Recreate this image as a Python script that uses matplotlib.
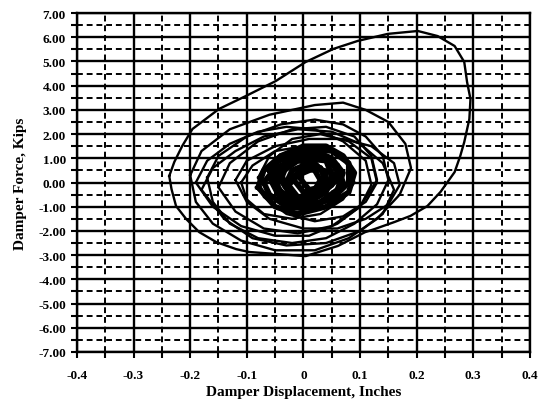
# Damper force vs displacement hysteresis loops, recreated from a scanned test plot.

import numpy as np  # array handling
import matplotlib
matplotlib.use("Agg")
import matplotlib.pyplot as plt  # plotting
from matplotlib.ticker import MultipleLocator, FuncFormatter

# Loop data: (displacement in inches, force in kips)
loop_a_x = [-0.237, -0.228, -0.214, -0.196, -0.149, -0.102, -0.049, 0.004, 0.053, 0.096,
            0.149, 0.202, 0.237, 0.267, 0.284, 0.289, 0.295, 0.293, 0.284, 0.277,
            0.267, 0.242, 0.219, 0.189, 0.161, 0.126, 0.109, 0.061, 0.004, -0.049,
            -0.096, -0.119, -0.154, -0.184, -0.207, -0.225, -0.233, -0.237]
loop_a_y = [0.27, 0.85, 1.51, 2.21, 3.04, 3.57, 4.19, 4.98, 5.52, 5.85,
            6.14, 6.26, 6.05, 5.64, 4.98, 4.15, 3.45, 2.62, 1.67, 1.10,
            0.43, -0.39, -0.97, -1.38, -1.63, -1.92, -2.05, -2.62, -3.04, -2.95,
            -2.87, -2.75, -2.46, -2.05, -1.51, -0.97, -0.27, 0.27]

loop_b_x = [-0.20, -0.18, -0.13, -0.06, 0.02, 0.07, 0.11, 0.15, 0.18, 0.19,
            0.17, 0.13, 0.08, 0.02, -0.05, -0.11, -0.16, -0.19, -0.20]
loop_b_y = [0.3, 1.3, 2.2, 2.8, 3.2, 3.3, 3.0, 2.5, 1.6, 0.6,
            -0.5, -1.5, -2.3, -2.8, -2.8, -2.4, -1.7, -0.8, 0.3]

loop_c_x = [-0.17, -0.15, -0.10, -0.04, 0.02, 0.07, 0.11, 0.14, 0.15, 0.13,
            0.09, 0.04, -0.02, -0.08, -0.13, -0.16, -0.17]
loop_c_y = [0.2, 1.1, 1.9, 2.4, 2.6, 2.4, 1.9, 1.1, 0.1, -0.9,
            -1.7, -2.3, -2.5, -2.3, -1.7, -0.8, 0.2]

loop_d_x = [-0.19, -0.17, -0.13, -0.08, -0.03, 0.02, 0.07, 0.11, 0.12, 0.10,
            0.06, 0.01, -0.05, -0.11, -0.16, -0.19]
loop_d_y = [0.0, 0.9, 1.6, 2.1, 2.3, 2.2, 1.7, 0.9, -0.1, -1.0,
            -1.7, -2.2, -2.2, -1.8, -1.0, 0.0]

loop_e_x = [-0.12, -0.10, -0.05, 0.01, 0.07, 0.12, 0.16, 0.17, 0.15, 0.11,
            0.06, 0.0, -0.06, -0.10, -0.12]
loop_e_y = [0.1, 0.9, 1.5, 1.8, 1.8, 1.5, 0.8, -0.1, -0.9, -1.5,
            -1.9, -1.9, -1.5, -0.8, 0.1]

loop_f_x = [-0.08, -0.06, -0.02, 0.03, 0.08, 0.12, 0.13, 0.11, 0.07, 0.02,
            -0.03, -0.07, -0.08]
loop_f_y = [0.2, 1.1, 1.8, 2.0, 1.7, 1.0, 0.0, -0.8, -1.4, -1.6,
            -1.3, -0.6, 0.2]

loop_g_x = [-0.11, -0.09, -0.05, 0.0, 0.05, 0.08, 0.09, 0.07, 0.03, -0.02,
            -0.07, -0.10, -0.11]
loop_g_y = [0.0, 0.7, 1.3, 1.5, 1.3, 0.8, 0.0, -0.7, -1.3, -1.5,
            -1.3, -0.7, 0.0]

loop_h_x = [-0.15, -0.13, -0.08, -0.02, 0.04, 0.09, 0.12, 0.13, 0.10, 0.05,
            -0.01, -0.07, -0.12, -0.15]
loop_h_y = [-0.2, 0.8, 1.7, 2.2, 2.3, 1.9, 1.1, 0.1, -1.0, -1.8,
            -2.1, -1.9, -1.2, -0.2]

loop_i_x = [-0.18, -0.16, -0.12, -0.07, -0.01, 0.05, 0.10, 0.14, 0.16, 0.14,
            0.10, 0.04, -0.03, -0.09, -0.14, -0.18]
loop_i_y = [-0.3, 0.6, 1.3, 1.9, 2.2, 2.1, 1.6, 0.8, -0.3, -1.3,
            -2.0, -2.5, -2.6, -2.3, -1.5, -0.3]

# Small loops forming the dense centre
core_x = [
    [-0.06, -0.05, -0.02, 0.02, 0.05, 0.07, 0.06, 0.03, -0.01, -0.04, -0.06],
    [-0.07, -0.05, -0.01, 0.03, 0.06, 0.07, 0.05, 0.01, -0.03, -0.06, -0.07],
    [-0.04, -0.03, 0.0, 0.04, 0.05, 0.04, 0.01, -0.02, -0.04],
    [-0.05, -0.03, 0.01, 0.05, 0.08, 0.08, 0.05, 0.0, -0.04, -0.05],
    [-0.03, -0.02, 0.01, 0.03, 0.04, 0.02, -0.01, -0.03],
    [-0.02, 0.0, 0.02, 0.03, 0.02, 0.0, -0.02],
    [-0.08, -0.07, -0.04, 0.0, 0.04, 0.07, 0.09, 0.08, 0.04, -0.01, -0.05, -0.08],
    [-0.05, -0.04, -0.01, 0.02, 0.04, 0.03, 0.0, -0.03, -0.05],
    [-0.04, -0.02, 0.01, 0.04, 0.06, 0.05, 0.02, -0.01, -0.03, -0.04],
    [-0.01, 0.01, 0.03, 0.04, 0.03, 0.01, -0.01],
    [-0.06, -0.04, 0.0, 0.03, 0.06, 0.06, 0.03, -0.01, -0.04, -0.06],
    [-0.03, -0.01, 0.02, 0.05, 0.05, 0.03, 0.0, -0.02, -0.03],
]
core_y = [
    [0.2, 0.8, 1.2, 1.3, 1.0, 0.4, -0.3, -0.8, -1.0, -0.7, 0.2],
    [0.0, 0.6, 1.0, 1.1, 0.7, 0.0, -0.6, -1.1, -1.0, -0.5, 0.0],
    [0.1, 0.7, 1.0, 0.9, 0.3, -0.4, -0.8, -0.6, 0.1],
    [0.3, 0.9, 1.4, 1.3, 0.8, 0.0, -0.7, -1.0, -0.6, 0.3],
    [0.0, 0.5, 0.8, 0.6, 0.0, -0.5, -0.6, 0.0],
    [0.2, 0.6, 0.5, 0.1, -0.3, -0.4, 0.2],
    [-0.2, 0.5, 1.1, 1.5, 1.5, 1.1, 0.4, -0.4, -1.0, -1.3, -1.0, -0.2],
    [-0.1, 0.4, 0.9, 0.8, 0.3, -0.2, -0.7, -0.6, -0.1],
    [0.4, 1.0, 1.2, 1.0, 0.5, -0.1, -0.5, -0.6, -0.2, 0.4],
    [0.3, 0.7, 0.6, 0.2, -0.2, -0.3, 0.3],
    [0.5, 1.1, 1.3, 1.2, 0.7, 0.1, -0.4, -0.7, -0.4, 0.5],
    [-0.2, 0.3, 0.6, 0.4, -0.1, -0.5, -0.8, -0.6, -0.2],
]

x_ticks = [-0.4, -0.3, -0.2, -0.1, 0.0, 0.1, 0.2, 0.3, 0.4]
x_labels = ["-0.4", "-0.3", "-0.2", "-0.1", "0", "0.1", "0.2", "0.3", "0.4"]
y_ticks = [7, 6, 5, 4, 3, 2, 1, 0, -1, -2, -3, -4, -5, -6, -7]

plt.rcParams["font.family"] = ["Liberation Serif", "DejaVu Serif"]
plt.rcParams["font.weight"] = "bold"

fig = plt.figure(figsize=(5.38, 4.02), dpi=100)
ax = fig.add_axes([0.143, 0.122, 0.842, 0.843])

ax.set_xlim(-0.4, 0.4)
ax.set_ylim(-7, 7)

# grid: solid at major, dashed at minor
ax.xaxis.set_major_locator(MultipleLocator(0.1))
ax.xaxis.set_minor_locator(MultipleLocator(0.05))
ax.yaxis.set_major_locator(MultipleLocator(1.0))
ax.yaxis.set_minor_locator(MultipleLocator(0.5))
ax.set_xticks(x_ticks)
ax.set_xticklabels(x_labels)
ax.set_yticks(y_ticks)
ax.yaxis.set_major_formatter(FuncFormatter(lambda v, p: f"{v:.2f}"))
ax.grid(which="major", color="black", linewidth=1.7, linestyle="-")
ax.grid(which="minor", color="black", linewidth=1.4, linestyle=(0, (3, 2)))
ax.set_axisbelow(True)

for s in ax.spines.values():
    s.set_linewidth(1.7)
ax.tick_params(which="both", direction="out", length=4, width=1.5, colors="black")
ax.tick_params(axis="x", which="major", labelsize=9.5, pad=8)
ax.tick_params(axis="y", which="major", labelsize=9.5, pad=4)

# loops
for xs, ys in [(loop_a_x, loop_a_y), (loop_b_x, loop_b_y), (loop_c_x, loop_c_y),
               (loop_d_x, loop_d_y), (loop_e_x, loop_e_y), (loop_f_x, loop_f_y),
               (loop_g_x, loop_g_y), (loop_h_x, loop_h_y), (loop_i_x, loop_i_y)]:
    ax.plot(xs, ys, color="black", linewidth=1.7)

for xs, ys in zip(core_x, core_y):
    ax.plot(xs, ys, color="black", linewidth=4.0)

ax.set_xlabel("Damper Displacement, Inches", fontsize=11, fontweight="bold", labelpad=3)
ax.set_ylabel("Damper Force, Kips", fontsize=11, fontweight="bold", labelpad=8)

fig.savefig("out.png", dpi=100, facecolor="white")
